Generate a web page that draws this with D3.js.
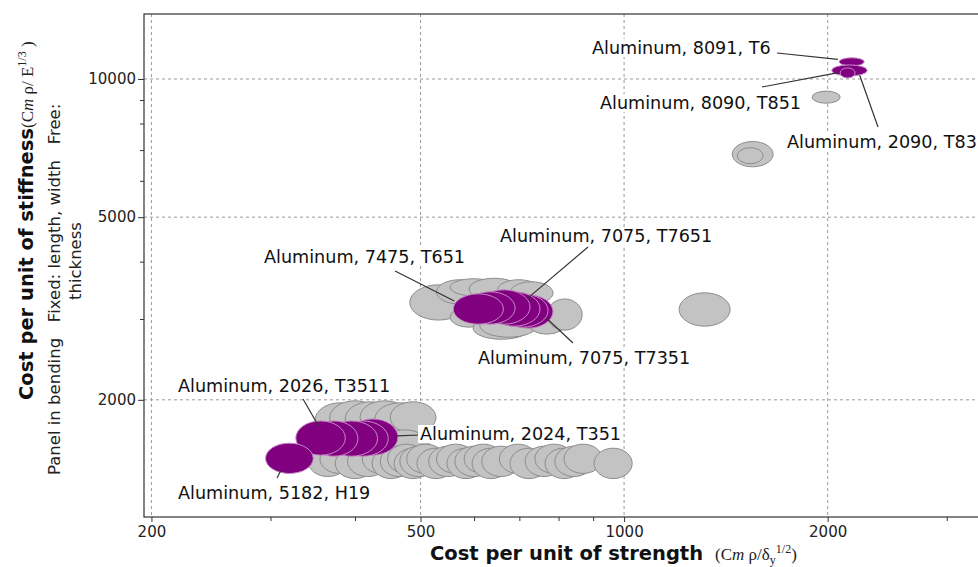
<!DOCTYPE html>
<meta charset="utf-8">
<style>
  body { margin: 0; background: #fff; }
  svg { display: block; font-family: "DejaVu Sans", Verdana, sans-serif; }
  .grid line { stroke: #9a9a9a; stroke-dasharray: 3,3; stroke-width: 1px; }
  .gray { fill: #c3c3c3; stroke: #8c8c8c; stroke-width: 1px; }
  .hi { fill: #800080; stroke: #c58ac5; stroke-width: 1px; }
  .leader { stroke: #333; stroke-width: 1.2px; }
  .lbl { font-size: 17.6px; fill: #111; }
</style>
<body>
<svg width="978" height="567"></svg>
<script src="https://cdnjs.cloudflare.com/ajax/libs/d3/7.8.5/d3.min.js"></script>
<script>
// axes ------------------------------------------------------------------------
var xTicksMajor = [200, 500, 1000, 2000];
var xTicksMinor = [300, 400, 600, 700, 800, 900, 3000];
var yTicksMajor = [2000, 5000, 10000];
var yTicksMinor = [3000, 4000, 6000, 7000, 8000, 9000];

// grey bubbles: [x low, x high, y low, y high] ----------------------------------
var grayTop = [
  [1897, 2087, 8857, 9410],
  [1445, 1661, 6437, 7307],
  [1470, 1606, 6538, 7085],
  [1206, 1435, 2894, 3421]
];
var grayMid = [
  [482, 586, 2984, 3561],
  [528, 618, 3234, 3653],
  [553, 650, 3369, 3671],
  [590, 700, 3300, 3680],
  [650, 751, 3301, 3653],
  [678, 785, 3234, 3616],
  [553, 627, 2879, 3187],
  [598, 726, 2710, 3029],
  [612, 743, 2738, 3076],
  [719, 822, 2780, 3139],
  [769, 867, 2837, 3317]
];
var grayLowTop = [
  [349, 414, 1651, 1970],
  [367, 436, 1676, 1990],
  [387, 458, 1668, 1980],
  [407, 482, 1693, 1990],
  [428, 508, 1676, 1970],
  [451, 527, 1693, 1980],
  [367, 436, 1439, 1693],
  [393, 466, 1445, 1736],
  [421, 499, 1450, 1700],
  [436, 516, 1440, 1720]
];
var grayLowRowX = [
  [341, 390], [355, 407], [374, 428], [390, 448], [410, 466], [424, 482],
  [436, 495], [447, 508], [457, 520], [466, 530], [477, 543], [494, 562],
  [514, 586], [528, 602], [547, 623], [562, 641], [580, 661], [596, 678],
  [616, 702], [654, 743], [678, 772], [714, 812], [738, 841], [764, 870],
  [790, 900], [815, 928], [903, 1028]
];
var grayLowRowY = [[1361, 1585], [1382, 1601], [1347, 1569]];

// highlighted aluminium grades: [name, x low, x high, y low, y high] ------------
var picked = [
  ["Aluminum, 8091, T6", 2080, 2265, 10680, 11121],
  ["Aluminum, 8090, T851", 2028, 2288, 10153, 10733],
  ["Aluminum, 2090, T83", 2087, 2196, 10051, 10573],
  ["Aluminum, 7075, T7351", 663, 785, 2865, 3386],
  ["", 647, 772, 2879, 3403],
  ["", 630, 751, 2894, 3438],
  ["Aluminum, 7075, T7651", 608, 726, 2923, 3473],
  ["", 582, 690, 2923, 3438],
  ["Aluminum, 7475, T651", 559, 663, 2923, 3403],
  ["Aluminum, 2024, T351", 390, 463, 1515, 1817],
  ["", 377, 448, 1507, 1799],
  ["", 361, 432, 1507, 1799],
  ["", 343, 404, 1507, 1799],
  ["Aluminum, 2026, T3511", 327, 387, 1515, 1799],
  ["Aluminum, 5182, H19", 295, 347, 1382, 1609]
];

// label placement (pixels): text start, baseline, leader start, leader end on bubble (fraction of radius)
var labelPos = {
  "Aluminum, 8091, T6":    {tx: 592, ty: 54,  sx: 777, sy: 53,  ex: -1.1, ey: -0.6},
  "Aluminum, 8090, T851":  {tx: 600, ty: 109, sx: 762, sy: 87,  ex: -0.7, ey: 0.45},
  "Aluminum, 2090, T83":   {tx: 787, ty: 148, sx: 878, sy: 127, ex: 1.6,  ey: 0.4},
  "Aluminum, 7475, T651":  {tx: 264, ty: 263, sx: 395, sy: 271, ex: -0.96, ey: -0.53},
  "Aluminum, 7075, T7651": {tx: 500, ty: 242, sx: 588, sy: 247, ex: 0.88, ey: -0.47},
  "Aluminum, 7075, T7351": {tx: 478, ty: 364, sx: 573, sy: 343, ex: 0.73, ey: 0.39},
  "Aluminum, 2026, T3511": {tx: 178, ty: 392, sx: 303, sy: 399, ex: -0.08, ey: -0.7},
  "Aluminum, 2024, T351":  {tx: 420, ty: 440, sx: 420, sy: 435, ex: 0.96, ey: -0.06},
  "Aluminum, 5182, H19":   {tx: 178, ty: 499, sx: 277, sy: 478, ex: -0.36, ey: 0.8}
};
//------------------------------------------------------------------------------

var svg = d3.select("svg");
var pL = 144, pT = 14, pR = 992, pB = 517;

var x = d3.scaleLog().domain([195, 3500]).range([pL, pR]);
var y = d3.scaleLog().domain([1111, 13855]).range([pB, pT]);

// grid
var grid = svg.append("g").attr("class", "grid");
grid.selectAll(".gx").data(xTicksMajor).enter().append("line")
  .attr("x1", d => x(d)).attr("x2", d => x(d)).attr("y1", pT).attr("y2", pB);
grid.selectAll(".gy").data(yTicksMajor).enter().append("line")
  .attr("x1", pL).attr("x2", pR).attr("y1", d => y(d)).attr("y2", d => y(d));

// axes
var xAxis = d3.axisBottom(x).tickValues(xTicksMajor).tickFormat(d3.format("d")).tickSize(5).tickPadding(4);
var xMinor = d3.axisBottom(x).tickValues(xTicksMinor).tickFormat("").tickSize(4);
var yAxis = d3.axisLeft(y).tickValues(yTicksMajor).tickFormat(d3.format("d")).tickSize(6).tickPadding(2);
var yMinor = d3.axisLeft(y).tickValues(yTicksMinor).tickFormat("").tickSize(4);

[xAxis, xMinor].forEach(function(a) {
  var g = svg.append("g").attr("transform", "translate(0," + pB + ")").call(a);
  g.select(".domain").remove();
  g.selectAll("line").attr("stroke", "#333");
});
[yAxis, yMinor].forEach(function(a) {
  var g = svg.append("g").attr("transform", "translate(" + pL + ",0)").call(a);
  g.select(".domain").remove();
  g.selectAll("line").attr("stroke", "#333");
});
svg.selectAll(".tick text").attr("font-family", "DejaVu Sans").attr("font-size", 15).attr("fill", "#222");

// plot frame
svg.append("rect")
  .attr("x", pL).attr("y", pT).attr("width", pR - pL).attr("height", pB - pT)
  .attr("fill", "none").attr("stroke", "#333").attr("stroke-width", 1.2);

// bubbles ---------------------------------------------------------------------
function ell(sel) {
  sel.attr("cx", d => (x(d[0]) + x(d[1])) / 2)
     .attr("cy", d => (y(d[2]) + y(d[3])) / 2)
     .attr("rx", d => Math.abs(x(d[1]) - x(d[0])) / 2)
     .attr("ry", d => Math.abs(y(d[3]) - y(d[2])) / 2);
}

var lowRow = grayLowRowX.map(function(r, i) {
  var yy = grayLowRowY[i % grayLowRowY.length];
  return [r[0], r[1], yy[0], yy[1]];
});
var grays = grayTop.concat(grayMid, grayLowTop, lowRow);

svg.append("g").selectAll("ellipse").data(grays).enter().append("ellipse")
  .attr("class", "gray").call(ell);

var pickedBox = picked.map(d => [d[1], d[2], d[3], d[4], d[0]]);
svg.append("g").selectAll("ellipse").data(pickedBox).enter().append("ellipse")
  .attr("class", "hi").call(ell);

// labels with leader lines ----------------------------------------------------
var labelled = pickedBox.filter(d => d[4] !== "");
var ann = svg.append("g");
labelled.forEach(function(d) {
  var p = labelPos[d[4]];
  var cx = (x(d[0]) + x(d[1])) / 2, cy = (y(d[2]) + y(d[3])) / 2;
  var rx = Math.abs(x(d[1]) - x(d[0])) / 2, ry = Math.abs(y(d[3]) - y(d[2])) / 2;
  ann.append("line").attr("class", "leader")
    .attr("x1", p.sx).attr("y1", p.sy)
    .attr("x2", cx + p.ex * rx).attr("y2", cy + p.ey * ry);
});
labelled.forEach(function(d) {
  var p = labelPos[d[4]];
  var bg = ann.append("rect").attr("fill", "#fff");
  var t = ann.append("text").attr("class", "lbl").attr("x", p.tx).attr("y", p.ty).text(d[4]);
  var b = t.node().getBBox();
  bg.attr("x", b.x - 2).attr("y", b.y + 1).attr("width", b.width + 4).attr("height", b.height - 2);
});

// axis titles -----------------------------------------------------------------
var xt = svg.append("text").attr("x", 430).attr("y", 560);
xt.append("tspan").attr("font-weight", "bold").attr("font-size", 19.5).attr("fill", "#111")
  .text("Cost per unit of strength");
var xs = xt.append("tspan").attr("font-family", "Liberation Serif, serif").attr("font-size", 17).attr("fill", "#222");
xs.append("tspan").attr("dx", 12).text("(C");
xs.append("tspan").attr("font-style", "italic").text("m");
xs.append("tspan").text("  \u03c1/\u03b4");
xs.append("tspan").attr("font-size", 12).attr("dy", 4).text("y");
xs.append("tspan").attr("font-size", 12).attr("dy", -11).text("1/2");
xs.append("tspan").attr("dy", 7).text(")");

var yt = svg.append("text").attr("transform", "translate(33,400) rotate(-90)");
yt.append("tspan").attr("font-weight", "bold").attr("font-size", 19.5).attr("fill", "#111")
  .text("Cost per unit of stiffness");
var ys = yt.append("tspan").attr("font-family", "Liberation Serif, serif").attr("font-size", 17).attr("fill", "#222");
ys.append("tspan").text("(C");
ys.append("tspan").attr("font-style", "italic").text("m");
ys.append("tspan").text("  \u03c1/ E");
ys.append("tspan").attr("font-size", 12).attr("dy", -7).text("1/3");
ys.append("tspan").attr("dy", 7).text(" )");

svg.append("text").attr("transform", "translate(60,475) rotate(-90)")
  .attr("font-size", 16.5).attr("fill", "#222").attr("xml:space", "preserve")
  .text("Panel in bending   Fixed: length, width   Free:");
svg.append("text").attr("transform", "translate(81,300) rotate(-90)")
  .attr("font-size", 16.5).attr("fill", "#222")
  .text("thickness");
</script>
</body>
